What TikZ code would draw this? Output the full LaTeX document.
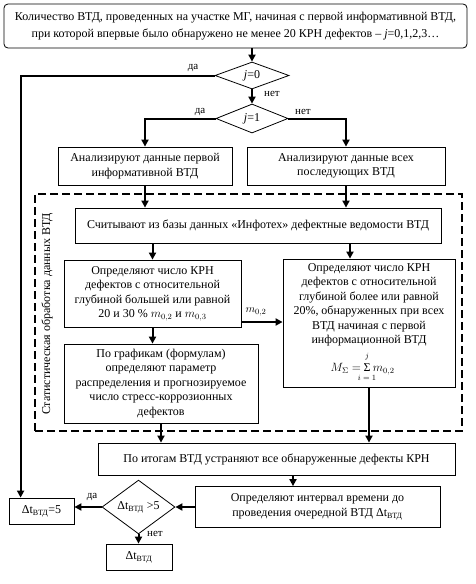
\documentclass[tikz,border=0pt]{standalone}
\usepackage{fontspec}
\setmainfont{Liberation Serif}
\usetikzlibrary{shapes.geometric,arrows.meta,calc}
\newcommand{\dtv}{Δt\textsubscript{ВТД}}
\begin{document}
\begin{tikzpicture}[x=1pt,y=-1pt,
  every node/.style={font=\fontsize{12}{14.5}\selectfont},
  box/.style={draw, line width=0.8pt, align=center, inner sep=1pt},
  dia/.style={draw, diamond, line width=0.8pt, inner sep=0pt},
  arr/.style={line width=2pt, -{Triangle[length=7pt,width=7pt]}},
  lbl/.style={font=\fontsize{11}{13}\selectfont, inner sep=1pt},
  lim/.style={font=\fontsize{8}{9}\selectfont, inner sep=0pt}]
\useasboundingbox (0,0) rectangle (475,584);

\node[box, rounded corners=4pt, minimum width=463pt, minimum height=44pt, font=\fontsize{12}{16.5}\selectfont] (top) at (235.5,26)
 {Количество ВТД, проведенных на участке МГ, начиная с первой информативной ВТД,\\
  при которой впервые было обнаружено не менее 20 КРН дефектов – \textit{j}=0,1,2,3…};
\node[dia, minimum width=74pt, minimum height=27pt] (d0) at (252,75.5) {\textit{j}=0};
\node[dia, minimum width=72pt, minimum height=29pt] (d1) at (252,118.5) {\textit{j}=1};
\node[box, minimum width=174pt, minimum height=38pt] (A1) at (145,166)
 {Анализируют данные первой\\ информативной ВТД};
\node[box, minimum width=198pt, minimum height=38pt] (A2) at (346,166)
 {Анализируют данные всех\\ последующих ВТД};
\node[draw, dash pattern=on 8pt off 4pt, line width=1.8pt, minimum width=427pt, minimum height=237pt] (grp) at (248.5,312.5) {};
\node[rotate=90] (vt) at (47,314) {Статистическая обработка данных ВТД};
\node[box, minimum width=366pt, minimum height=35pt] (B) at (258,225.5)
 {Считывают из базы данных «Инфотех» дефектные ведомости ВТД};
\node[box, minimum width=177pt, minimum height=67pt] (C1) at (152.5,293.5)
 {Определяют число КРН\\ дефектов с относительной\\ глубиной большей или равной\\ 20 и 30 \% $m_{0,2}$ и $m_{0,3}$};
\node[box, minimum width=172pt, minimum height=128pt] (C2) at (369,323) {};
\node[align=center, inner sep=0pt] (C2t) at (369,305)
 {Определяют число КРН\\ дефектов с относительной\\ глубиной более или равной\\ 20\%, обнаруженных при всех\\ ВТД начиная с первой\\ информационной ВТД};
\node[inner sep=0pt] (fs) at (367,368) {Σ};
\node[inner sep=0pt, anchor=base east] (fl) at ([xshift=-2pt]fs.base west) {$M_{\Sigma}=$};
\node[inner sep=0pt, anchor=base west] (fr) at ([xshift=2pt]fs.base east) {$m_{0,2}$};
\node[lim, anchor=south] (fj) at ([yshift=3.5pt]fs.north) {$j$};
\node[lim, anchor=north] (fi) at ([yshift=-3pt]fs.south) {$i=1$};
\node[box, minimum width=194pt, minimum height=79pt] (D) at (161,383.5)
 {По графикам (формулам)\\ определяют параметр\\ распределения и прогнозируемое\\ число стресс-коррозионных\\ дефектов};
\node[box, minimum width=357pt, minimum height=32pt] (E) at (276.5,459)
 {По итогам ВТД устраняют все обнаруженные дефекты КРН};
\node[box, minimum width=245pt, minimum height=41pt] (F) at (317.5,507)
 {Определяют интервал времени до\\ проведения очередной ВТД \dtv};
\node[dia, minimum width=73pt, minimum height=40pt] (d2) at (138.5,507) {\dtv{} >5};
\node[box, minimum width=65pt, minimum height=26pt] (G) at (41.5,511) {\dtv=5};
\node[box, minimum width=66pt, minimum height=26pt] (H) at (139,557) {\dtv};

\draw[arr] (top.south -| d0.north) -- (d0.north);
\draw[arr] (d0.west) -| ([xshift=12pt]G.north west);
\node[lbl] (l1) at (193,68) {да};
\draw[arr] (d0.south) -- (d1.north);
\node[lbl] (l2) at (272,94) {нет};
\draw[arr] (d1.west) -| (A1.north);
\node[lbl] (l3) at (200,112) {да};
\draw[arr] (d1.east) -| (A2.north);
\node[lbl] (l4) at (303,112) {нет};
\draw[arr] (A1.south) -- (A1.south |- B.north);
\draw[arr] (A2.south) -- (A2.south |- B.north);
\draw[arr] (C1.north |- B.south) -- (C1.north);
\coordinate (c2in) at ([xshift=-19pt]C2.north);
\draw[arr] (c2in |- B.south) -- (c2in);
\coordinate (c1out) at ([yshift=-28.5pt]C1.east);
\draw[arr] (c1out) -- (c1out -| C2.west);
\node[lbl] (l5) at (256,312) {$m_{0,2}$};
\draw[arr] (C1.south) -- (C1.south |- D.north);
\draw[arr] (D.south) -- (D.south |- E.north);
\draw[arr] (C2.south) -- (C2.south |- E.north);
\coordinate (fin) at ([xshift=-24.5pt]F.north);
\draw[arr] (fin |- E.south) -- (fin);
\draw[arr] (F.west) -- (d2.east);
\draw[arr] (d2.west) -- (d2.west -| G.east);
\node[lbl] (l6) at (92,497) {да};
\draw[arr] (d2.south) -- (d2.south |- H.north);
\node[lbl] (l7) at (155,534) {нет};
\end{tikzpicture}
\end{document}
